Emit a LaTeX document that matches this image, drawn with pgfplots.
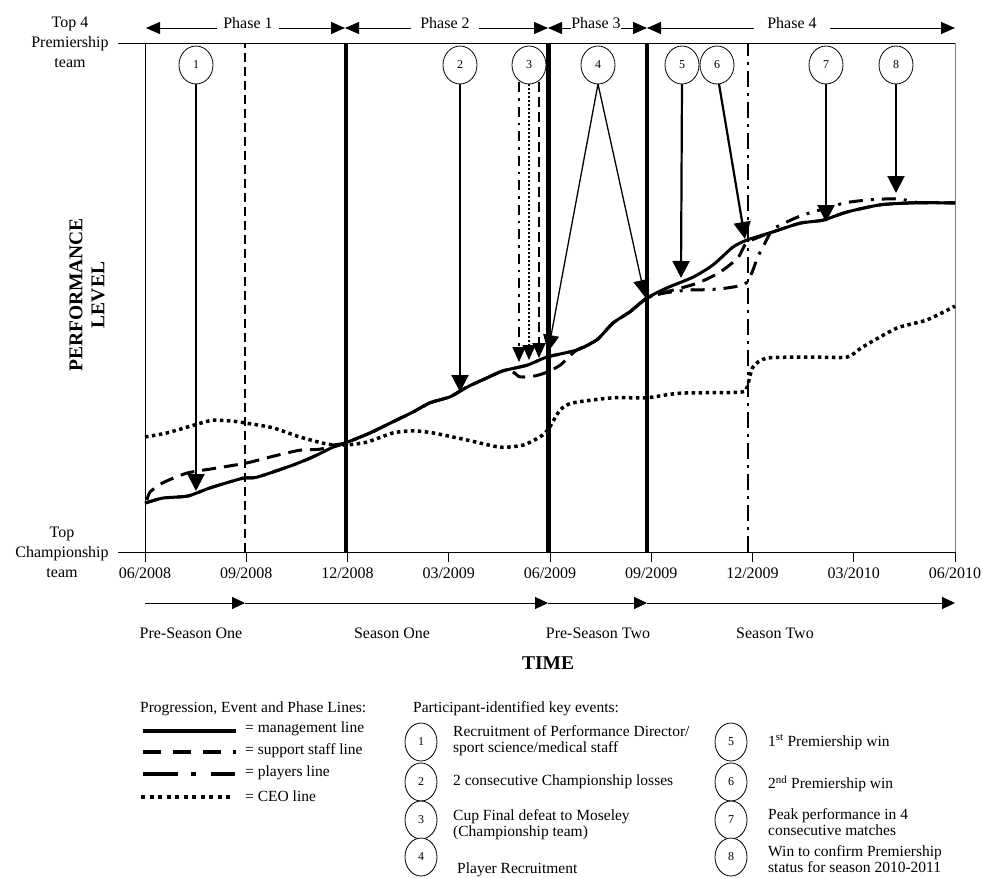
\documentclass[border=0pt]{standalone}
\usepackage{pgfplots}
\pgfplotsset{compat=1.18}
\usepackage{fontspec}
\setmainfont{Liberation Serif}
\usetikzlibrary{arrows.meta}
\newcommand\ft{\fontsize{16pt}{20pt}\selectfont}
\newcommand\fl{\fontsize{15.5pt}{16pt}\selectfont}
\newcommand\fc{\fontsize{12pt}{14pt}\selectfont}
\newcommand\fb{\bfseries\fontsize{19.5pt}{22pt}\selectfont}
\begin{document}
\begin{tikzpicture}
\useasboundingbox (0pt,0pt) rectangle (983pt,-878pt);
\begin{axis}[
  at={(145pt,-552pt)}, anchor=south west,
  width=810pt, height=509pt, scale only axis,
  xmin=0, xmax=24, ymin=0, ymax=100,
  axis line style={line width=0.8pt},
  xtick={0,3,...,24},
  xticklabels={06/2008,09/2008,12/2008,03/2009,06/2009,09/2009,12/2009,03/2010,06/2010},
  xtick pos=bottom, tick align=outside, major tick length=10pt,
  xtick style={line width=0.8pt, black},
  ytick=\empty,
  xticklabel style={font=\ft, yshift=-2pt},
  /pgf/number format/assume math mode=true,
  clip=false,
]
% phase / event vertical lines
\addplot[line width=2.2pt, dash pattern=on 9pt off 5pt] coordinates {(2.96,0)(2.96,100)};
\addplot[line width=3.5pt] coordinates {(5.96,0)(5.96,100)};
\addplot[line width=4.5pt] coordinates {(11.95,0)(11.95,100)};
\addplot[line width=4.5pt] coordinates {(14.88,0)(14.88,100)};
\addplot[line width=2.5pt, dash pattern=on 16pt off 6pt on 3pt off 6pt] coordinates {(17.87,0)(17.87,100)};
\addplot[gray, line width=1pt] coordinates {(24,0)(24,100)};
% CEO line
\addplot[line width=3.5pt, dash pattern=on 3.5pt off 3.5pt, smooth, tension=0.4] coordinates {
(0,22.6)(0.65,23.4)(1.54,25.1)(2.01,25.9)(2.61,25.7)(3.02,25.3)(3.79,24.4)(4.59,22.6)(5.39,21.2)(5.93,21.0)
(6.58,21.6)(7.35,23.4)(7.94,23.8)(8.53,23.4)(9.54,22.0)(10.52,20.6)(11.20,21.0)(11.70,22.6)(11.94,24.0)
(12.30,27.9)(12.68,29.3)(13.87,30.3)(14.87,30.3)(15.85,31.2)(17.63,31.4)(17.84,32.4)(18.01,36.3)(18.43,38.1)
(19.79,38.3)(20.80,38.3)(21.27,40.3)(22.28,44.0)(23.17,45.6)(24,48.3)};
% players line
\addplot[line width=3pt, dash pattern=on 14pt off 8pt on 3pt off 8pt, smooth, tension=0.4] coordinates {
(0,9.6)(0.53,10.6)(1.27,11.0)(1.93,12.6)(2.90,14.5)(3.32,14.7)(4.39,17.1)(4.98,18.7)(5.57,20.6)(5.93,21.4)
(6.67,23.4)(7.26,25.3)(7.94,27.5)(8.44,29.3)(9.04,30.5)(9.54,32.4)(10.13,34.2)(10.61,35.6)(11.32,36.7)
(11.91,38.3)(12.80,39.7)(13.39,41.7)(13.87,45.0)(14.37,47.2)(14.87,49.9)
(15.41,50.9)(16.15,51.5)(16.44,51.5)(17.04,51.7)(17.63,52.3)(17.84,53.0)(17.99,55.0)(18.16,58.0)(18.37,60.7)
(18.58,63.3)(18.81,64.2)(19.41,66.0)(20.0,67.2)(20.74,68.6)(21.48,69.2)(22.22,69.4)(22.67,69.0)(22.96,68.6)(24,68.6)};
% support staff line
\addplot[line width=3pt, dash pattern=on 14pt off 8pt, smooth, tension=0.4] coordinates {
(0.06,10.2)(0.15,11.8)(0.53,13.6)(1.24,15.5)(2.13,16.5)(3.02,17.5)(3.85,18.9)(4.59,20.0)(5.19,20.2)(5.57,21.0)
(5.93,21.4)(6.67,23.4)(7.26,25.3)(7.94,27.5)(8.44,29.3)(9.04,30.5)(9.54,32.4)(10.13,34.2)(10.61,35.6)
(10.90,35.4)(11.11,34.4)(11.56,34.6)(11.94,35.4)(12.30,36.7)(12.60,38.6)(12.80,39.7)(13.39,41.7)(13.87,45.0)
(14.37,47.2)(14.87,49.9)(15.26,50.8)(15.85,51.8)(16.44,53.0)(17.04,55.0)(17.57,57.8)(17.84,60.8)(18.61,62.9)
(19.41,64.6)(20.09,65.2)(20.80,66.8)(21.78,68.2)(22.76,68.6)(24,68.6)};
% management line
\addplot[line width=3pt, smooth, tension=0.4] coordinates {
(0,9.6)(0.53,10.6)(1.27,11.0)(1.93,12.6)(2.90,14.5)(3.32,14.7)(4.39,17.1)(4.98,18.7)(5.57,20.6)(5.93,21.4)
(6.67,23.4)(7.26,25.3)(7.94,27.5)(8.44,29.3)(9.04,30.5)(9.54,32.4)(10.13,34.2)(10.61,35.6)(11.32,36.7)
(11.91,38.3)(12.80,39.7)(13.39,41.7)(13.87,45.0)(14.37,47.2)(14.87,49.9)(15.47,51.9)(16.24,54.0)(16.83,56.4)
(17.42,59.9)(17.84,61.3)(18.61,62.9)(19.41,64.6)(20.09,65.2)(20.80,66.8)(21.78,68.2)(22.76,68.6)(24,68.6)};
\end{axis}
\begin{scope}[x=1pt,y=-1pt]
% y ticks
\draw[line width=0.8pt] (118,43) -- (145,43);
\draw[line width=0.8pt] (118,552) -- (145,552);
\node[align=center, font=\ft] at (70,42) {Top 4\\Premiership\\team};
\node[align=center, font=\ft] at (62,552) {Top\\Championship\\team};
\node[rotate=90, align=center, font=\fb] at (87,295) {PERFORMANCE\\LEVEL};
% phase arrows
\tikzset{pa/.style={line width=1pt, {Triangle[length=14pt,width=12pt]}-{Triangle[length=14pt,width=12pt]}}}
\draw[pa] (146,28) -- (345,28);
\draw[pa] (345,28) -- (548,28);
\draw[pa] (548,28) -- (647,28);
\draw[pa] (647,28) -- (955,28);
\node[fill=white, inner xsep=6pt, inner ysep=1pt, font=\ft] at (248,23) {Phase 1};
\node[fill=white, inner xsep=9pt, inner ysep=1pt, font=\ft] at (445,23) {Phase 2};
\node[fill=white, inner xsep=0pt, inner ysep=1pt, font=\ft] at (596,23) {Phase 3};
\node[fill=white, inner xsep=13pt, inner ysep=1pt, font=\ft] at (792,23) {Phase 4};
% event arrows
\tikzset{ea/.style={line width=2.2pt, -{Triangle[length=17pt,width=17pt]}}}
\draw[ea] (196,84) -- (196,491);
\draw[ea] (460,84) -- (460,392);
\draw[ea] (682,84) -- (681,278);
\draw[ea] (719,84) -- (745,239);
\draw[ea] (826,84) -- (826,222);
\draw[ea] (896,84) -- (896,193);
\draw[line width=1.3pt, -{Triangle[length=17pt,width=16pt]}] (598,84) -- (548,352);
\draw[line width=1.3pt, -{Triangle[length=17pt,width=16pt]}] (598,84) -- (645,297);
\draw[line width=1.8pt, dash pattern=on 10pt off 6pt on 2.5pt off 6pt, -{Triangle[length=15pt,width=13pt]}] (519,82) -- (519,362);
\draw[line width=1.6pt, dash pattern=on 2pt off 2pt, -{Triangle[length=15pt,width=13pt]}] (529,84) -- (529,360);
\draw[line width=1.8pt, dash pattern=on 10pt off 5pt, -{Triangle[length=15pt,width=13pt]}] (539,82) -- (539,358);
% circles
\foreach \cx/\n in {196/1,460/2,529/3,598/4,682/5,717/6,826/7,896/8}{
  \draw[fill=white, line width=0.8pt] (\cx,65) ellipse (17 and 19);
  \node[font=\fc] at (\cx,65) {\n};
}
% time arrows
\tikzset{ta/.style={line width=1pt, -{Triangle[length=13pt,width=12pt]}}}
\draw[ta] (145,603) -- (245,603);
\draw[ta] (245,603) -- (548,603);
\draw[ta] (548,603) -- (647,603);
\draw[ta] (647,603) -- (955,603);
\node[font=\ft] at (191,633) {Pre-Season One};
\node[font=\ft] at (392,633) {Season One};
\node[font=\ft] at (598,633) {Pre-Season Two};
\node[font=\ft] at (775,633) {Season Two};
\node[font=\fb] at (548,663) {TIME};
% legend
\node[anchor=west, font=\fl, inner sep=0pt] at (140,709) {Progression, Event and Phase Lines:};
\node[anchor=west, font=\fl, inner sep=0pt] at (413,709) {Participant-identified key events:};
\draw[line width=4.5pt] (143,731) -- (236,731);
\draw[line width=4.5pt, dash pattern=on 18pt off 12pt] (143,752) -- (236,752);
\draw[line width=4.5pt, dash pattern=on 35pt off 13pt on 5pt off 15pt on 24pt off 10pt] (143,774) -- (236,774);
\draw[line width=4pt, dash pattern=on 4pt off 4.5pt] (141,797) -- (234,797);
\node[anchor=west, font=\fl, inner sep=0pt] at (245,729) {= management line};
\node[anchor=west, font=\fl, inner sep=0pt] at (245,751) {= support staff line};
\node[anchor=west, font=\fl, inner sep=0pt] at (245,773) {= players line};
\node[anchor=west, font=\fl, inner sep=0pt] at (245,796) {= CEO line};
\foreach \cx in {421,731}{
  \foreach \cy/\n in {742/0,782/1,820/2,857/3}{
    \draw[fill=white, line width=0.8pt] (\cx,\cy) ellipse (16 and 19);
  }
}
\foreach \cy/\n in {742/1,782/2,820/3,857/4}{\node[font=\fc] at (421,\cy) {\n};}
\foreach \cy/\n in {742/5,782/6,820/7,857/8}{\node[font=\fc] at (731,\cy) {\n};}
\node[anchor=west, align=left, font=\fl, inner sep=0pt] at (453,741) {Recruitment of Performance Director/\\sport science/medical staff};
\node[anchor=west, font=\fl, inner sep=0pt] at (453,782) {2 consecutive Championship losses};
\node[anchor=west, align=left, font=\fl, inner sep=0pt] at (453,825) {Cup Final defeat to Moseley\\(Championship team)};
\node[anchor=west, font=\fl, inner sep=0pt] at (457,870) {Player Recruitment};
\node[anchor=west, font=\fl, inner sep=0pt] at (768,742) {1\textsuperscript{st} Premiership win};
\node[anchor=west, font=\fl, inner sep=0pt] at (768,784) {2\textsuperscript{nd} Premiership win};
\node[anchor=west, align=left, font=\fl, inner sep=0pt] at (768,822) {Peak performance in 4\\consecutive matches};
\node[anchor=west, align=left, font=\fl, inner sep=0pt] at (768,859) {Win to confirm Premiership\\status for season 2010-2011};
\end{scope}
\end{tikzpicture}
\end{document}
